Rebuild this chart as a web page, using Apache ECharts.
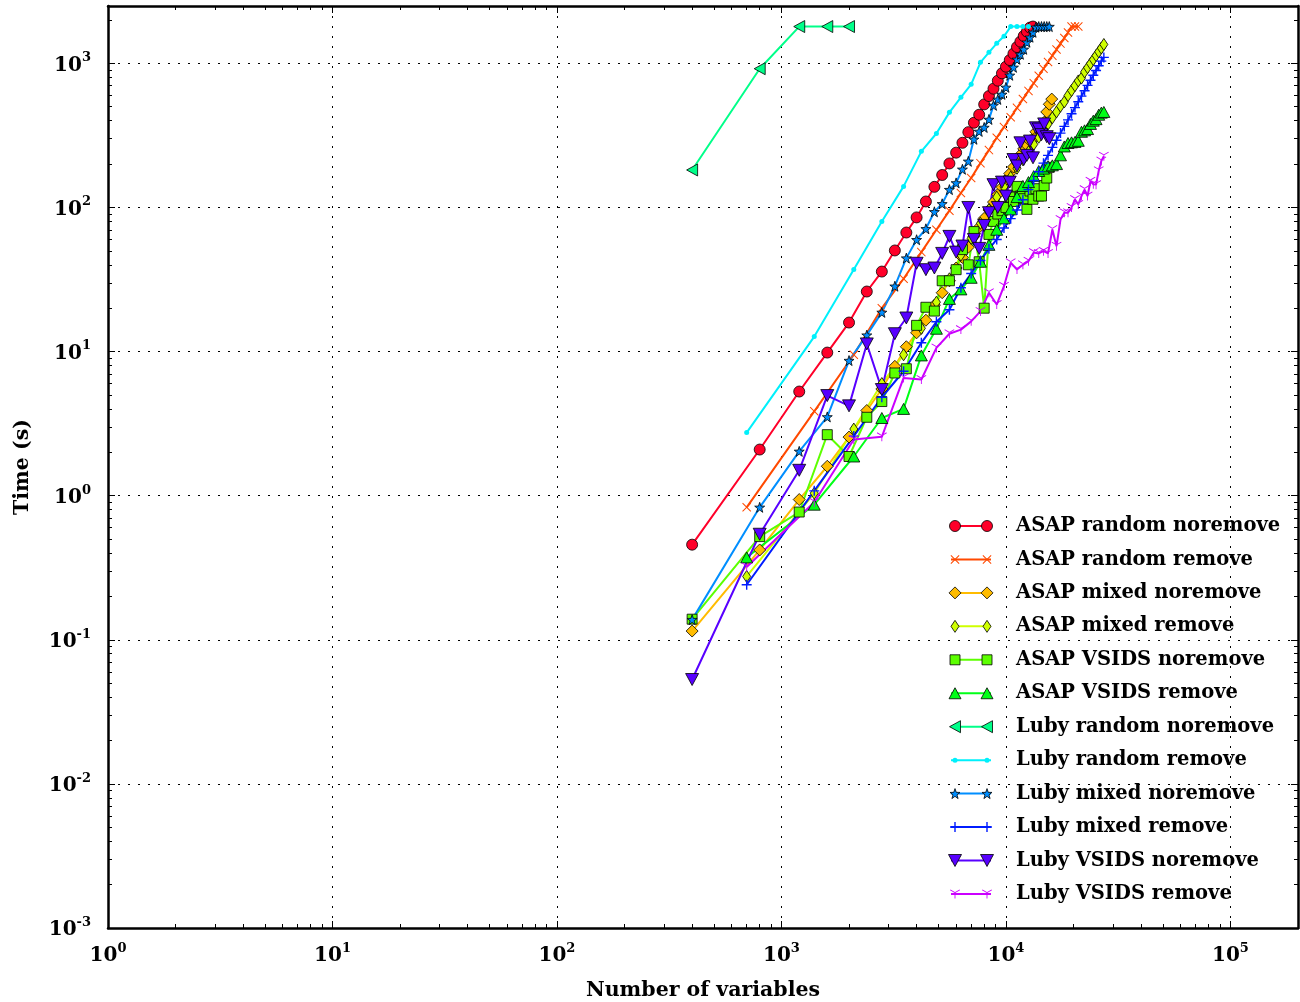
<!DOCTYPE html>
<html><head><meta charset="utf-8">
<script src="https://cdn.jsdelivr.net/npm/echarts@6/dist/echarts.min.js"></script>
<style>html,body{margin:0;padding:0;background:#fff}#c{width:1300px;height:1002px}</style>
</head><body><div id="c"></div>
<script>
// ---------- data ----------
const nVars400 = [400,800,1200,1600,2000,2400,2800,3200,3600,4000,4400,4800,5200,5600,6000,6400,6800,7200,7600,8000,
  8400,8800,9200,9600,10000,10400,10800,11200,11600,12000,12400,12800,13200,13600,14000,14400,14800,15200,15600,16000];
const nVars700 = [700,1400,2100,2800,3500,4200,4900,5600,6300,7000,7700,8400,9100,9800,10500,11200,11900,12600,13300,14000,
  14700,15400,16100,16800,17500,18200,18900,19600,20300,21000,21700,22400,23100,23800,24500,25200,25900,26600,27300];
const nVarsLubyRandomNoremove = [400,800,1200,1600,2000];

const asapRandomNoremove = [0.457,2.09,5.28,9.84,15.9,26.1,35.9,50.3,67,85.3,110,139,168,202,240,281,333,387,440,519,
  593,667,758,853,948,1054,1167,1298,1415,1548,1660,1770,1800];
const asapRandomRemove = [0.83,3.85,9.5,20,32,49,70,95,126,160,203,250,305,361,423,491,565,644,729,820,
  918,1022,1131,1248,1371,1500,1636,1800,1800,1800];
const asapMixedNoremove = [0.115,0.42,0.94,1.6,2.55,3.9,5.5,7.9,10.8,13.5,16.5,21,25.6,31,38,45,53,63,73,84,
  96,109,123,138,155,172,191,211,232,255,270,290,300,335,320,330,390,460,520,565];
const asapMixedRemove = [0.275,1.04,2.9,6.0,9.5,14.5,22,32,46.7,61,77.6,96.7,118,139,162,187,214,243,274,307,
  342,379,419,460,504,540,598,648,700,755,790,872,933,997,1063,1132,1203,1276,1352];
const asapVsidsNoremove = [0.139,0.52,0.77,2.65,1.87,3.5,4.5,7.1,7.6,15.2,20.3,19.1,31,31,37,51,40,68,42,20,
  65,80,90,95,100,118,110,140,120,115,97,130,114,135,120,120,142,160,190];
const asapVsidsRemove = [0.373,0.866,1.87,3.46,4.0,9.4,14.4,23.2,27,32.5,42,55,70,84,97,118,141,150,165,179,
  186,193,196,200,230,265,280,283,285,290,335,343,350,380,400,410,440,455,460];
const lubyRandomNoremove = [182,918,1800,1800,1800];
const lubyRandomRemove = [2.74,12.7,37.1,80,140,245,326,457,581,715,1016,1192,1377,1540,1800,1800,1800,1800];
const lubyMixedNoremove = [0.138,0.83,2.03,3.52,8.66,13,18.7,28.4,44.5,59.7,71.1,93.3,106,133,148,184,209,297,337,359,
  408,511,562,609,681,826,938,1066,1155,1251,1400,1517,1641,1780,1800,1800,1800,1800,1800];
const lubyMixedRemove = [0.241,1.08,2.59,4.82,7.3,11.5,16.1,19.5,27.7,34.8,42.8,51.6,60,72,83.6,96,113,133,154,177,
  203,230,261,293,328,365,405,447,493,541,592,646,703,763,826,893,963,1036,1100];
const lubyVsidsNoremove = [0.053,0.54,1.5,4.95,4.2,11.3,5.45,13.3,17.1,41,37,38,48,63,49,54,100,60,52,75,
  92,144,100,150,120,150,215,194,281,215,230,289,221,357,350,320,380,310,300];
const lubyVsidsRemove = [0.32,0.9,2.45,2.56,6.56,6.4,10.6,13.3,14.2,16.2,19,25.6,21.2,28.4,41.3,37.1,40,42.4,48.7,48,
  49.7,48,70.3,53.9,82.5,92,92,100,113.6,105,120,133,120,152,145,144,180,210,227];

const xTickLabels = [1,10,100,1000,10000,100000];
const yTickLabels = [0.001,0.01,0.1,1,10,100,1000];

// ---------- marker shapes (polygons, normalised to a unit box) ----------
const FONT = 'DejaVu Serif';
function norm(polys) {
  let x0 = Infinity, y0 = Infinity, x1 = -Infinity, y1 = -Infinity;
  polys.forEach(p => p.forEach(([x, y]) => { x0 = Math.min(x0, x); x1 = Math.max(x1, x); y0 = Math.min(y0, y); y1 = Math.max(y1, y); }));
  return polys.map(p => p.map(([x, y]) => [(x - x0) / (x1 - x0), (y - y0) / (y1 - y0)]));
}
const SH = {
  tri: norm([[[5,0],[10,10],[0,10]]]),
  triDown: norm([[[0,0],[10,0],[5,10]]]),
  triLeft: norm([[[0,5],[10,0],[10,10]]]),
  diamond: norm([[[5,0],[10,5],[5,10],[0,5]]]),
  star: norm([[[10,0],[12.35,6.76],[19.51,6.91],[13.8,11.24],[15.88,18.09],[10,14],[4.12,18.09],[6.2,11.24],[0.49,6.91],[7.65,6.76]]]),
  plus: norm([[[4.3,0],[5.7,0],[5.7,4.3],[10,4.3],[10,5.7],[5.7,5.7],[5.7,10],[4.3,10],[4.3,5.7],[0,5.7],[0,4.3],[4.3,4.3]]]),
  xmark: norm([[[0,0.8],[0.8,0],[5,4.2],[9.2,0],[10,0.8],[5.8,5],[10,9.2],[9.2,10],[5,5.8],[0.8,10],[0,9.2],[4.2,5]]]),
  triY: norm([[[4.6,5],[5.4,5],[5.4,10],[4.6,10]],
              [[5.2,4.65],[0.85,2.15],[0.45,2.85],[4.8,5.35]],
              [[4.8,4.65],[9.15,2.15],[9.55,2.85],[5.2,5.35]]])
};
function toPath(polys) {
  return 'path://' + polys.map(p => 'M' + p.map(([x, y]) => (x * 100).toFixed(2) + ',' + (y * 100).toFixed(2)).join('L') + 'Z').join(' ');
}

function pairs(xs, ys) { return ys.map((y, i) => [xs[i], y]); }

const specs = [
  {name:'ASAP random noremove', xs:nVars400, ys:asapRandomNoremove, color:'#FF0029', symbol:'circle', size:[11,11]},
  {name:'ASAP random remove', xs:nVars700, ys:asapRandomRemove, color:'#FF4900', shape:SH.xmark, size:[9,9], noBorder:true},
  {name:'ASAP mixed noremove', xs:nVars400, ys:asapMixedNoremove, color:'#FFBC00', shape:SH.diamond, size:[12,12]},
  {name:'ASAP mixed remove', xs:nVars700, ys:asapMixedRemove, color:'#CFFF00', shape:SH.diamond, size:[8,12]},
  {name:'ASAP VSIDS noremove', xs:nVars400, ys:asapVsidsNoremove, color:'#5CFF00', symbol:'rect', size:[10,10]},
  {name:'ASAP VSIDS remove', xs:nVars700, ys:asapVsidsRemove, color:'#00FF17', shape:SH.tri, size:[12,11]},
  {name:'Luby random noremove', xs:nVarsLubyRandomNoremove, ys:lubyRandomNoremove, color:'#00FF89', shape:SH.triLeft, size:[11,12]},
  {name:'Luby random remove', xs:nVars700, ys:lubyRandomRemove, color:'#00F0FB', symbol:'circle', size:[5,5], noBorder:true},
  {name:'Luby mixed noremove', xs:nVars400, ys:lubyMixedNoremove, color:'#008EFF', shape:SH.star, size:[10,10]},
  {name:'Luby mixed remove', xs:nVars700, ys:lubyMixedRemove, color:'#001CFF', shape:SH.plus, size:[10,10], noBorder:true},
  {name:'Luby VSIDS noremove', xs:nVars400, ys:lubyVsidsNoremove, color:'#5800FF', shape:SH.triDown, size:[13,12]},
  {name:'Luby VSIDS remove', xs:nVars700, ys:lubyVsidsRemove, color:'#CB00FF', shape:SH.triY, size:[10,9], noBorder:true}
];

const series = specs.map(s => ({
  name: s.name, type: 'line', data: pairs(s.xs, s.ys),
  xAxisIndex: 0, yAxisIndex: 0,
  symbol: s.shape ? toPath(s.shape) : s.symbol, symbolSize: s.size,
  showAllSymbol: true, animation: false,
  lineStyle: {color: s.color, width: 2},
  itemStyle: {color: s.color, borderColor: s.noBorder ? s.color : '#000', borderWidth: s.noBorder ? 0 : 0.8, opacity: 1},
  emphasis: {disabled: true}
}));

// legend icons: a line with a marker at each end (legend text is the ECharts legend)
const LEG_TOP = 514, ROW = 33.45, LX0 = 955, LX1 = 987;
const legendIcons = [];
specs.forEach((s, i) => {
  const cy = LEG_TOP + 12 + i * ROW;
  legendIcons.push({type: 'line', shape: {x1: LX0 - 4, y1: cy, x2: LX1 + 4, y2: cy},
    style: {stroke: s.color, lineWidth: 2}, z: 100});
  [LX0, LX1].forEach(cx => {
    const w = s.size[0], h = s.size[1];
    const st = {fill: s.color, stroke: s.noBorder ? null : '#000', lineWidth: s.noBorder ? 0 : 0.8};
    if (s.symbol === 'circle') legendIcons.push({type: 'circle', shape: {cx: cx, cy: cy, r: w / 2}, style: st, z: 101});
    else if (s.symbol === 'rect') legendIcons.push({type: 'rect', shape: {x: cx - w / 2, y: cy - h / 2, width: w, height: h}, style: st, z: 101});
    else s.shape.forEach(p => legendIcons.push({type: 'polygon',
      shape: {points: p.map(([x, y]) => [cx - w / 2 + x * w, cy - h / 2 + y * h])}, style: st, z: 101}));
  });
});

function powLabel(v) {
  const e = Math.log10(v), r = Math.round(e);
  if (Math.abs(e - r) > 1e-6) return '';
  return '{b|10}{s|' + r + '}';
}
const labelRich = {
  b: {fontFamily: FONT, fontWeight: 'bold', fontSize: 20, lineHeight: 24, color: '#000', verticalAlign: 'bottom'},
  s: {fontFamily: FONT, fontWeight: 'bold', fontSize: 13, lineHeight: 12, color: '#000', verticalAlign: 'top'}
};
const xMinor = [], yMinor = [];
for (let d = 0; d < 5; d++) for (let k = 2; k <= 9; k++) xMinor.push(k * Math.pow(10, d));
for (let d = -3; d <= 3; d++) for (let k = 2; k <= 9; k++) { const v = k * Math.pow(10, d); if (v < 2500) yMinor.push(+v.toPrecision(3)); }

const X0 = 1, X1 = 200000, Y0 = 0.001, Y1 = 2500;
const lineBlack = {show: true, lineStyle: {color: '#000', width: 2.5}};
const noLabel = {show: false};
const dotted = {show: true, lineStyle: {color: '#000', width: 1, type: [2, 8]}};
const tickMaj = (vals) => ({show: true, inside: true, length: 7, lineStyle: {color: '#000', width: 1}, customValues: vals});
const tickMin = (vals) => ({show: true, inside: true, length: 4, lineStyle: {color: '#000', width: 1}, customValues: vals});

const option = {
  backgroundColor: '#fff',
  animation: false,
  grid: {left: 108, right: 2, top: 6, bottom: 74, containLabel: false, outerBoundsMode: 'none'},
  legend: {
    orient: 'vertical', left: 950, top: LEG_TOP, padding: 0,
    itemWidth: 38, itemHeight: 12, itemGap: 9.45,
    data: specs.map(s => s.name),
    itemStyle: {opacity: 0}, lineStyle: {opacity: 0},
    textStyle: {fontFamily: FONT, fontWeight: 'bold', fontSize: 19.5, lineHeight: 24, color: '#000', padding: [0, 0, 0, 22]},
    selectedMode: false
  },
  graphic: legendIcons,
  xAxis: [
    {type: 'log', min: X0, max: X1, position: 'bottom',
     axisLine: lineBlack, axisTick: tickMaj(xTickLabels),
     axisLabel: {show: true, margin: 14, formatter: powLabel, rich: labelRich, customValues: xTickLabels},
     splitLine: dotted,
     name: 'Number of variables', nameLocation: 'middle', nameGap: 52,
     nameTextStyle: {fontFamily: FONT, fontWeight: 'bold', fontSize: 20.5, color: '#000'}},
    {type: 'log', min: X0, max: X1, position: 'bottom', axisLine: {show: false},
     axisTick: tickMin(xMinor), axisLabel: noLabel, splitLine: {show: false}},
    {type: 'log', min: X0, max: X1, position: 'top', axisLine: lineBlack,
     axisTick: tickMaj(xTickLabels), axisLabel: noLabel, splitLine: {show: false}},
    {type: 'log', min: X0, max: X1, position: 'top', axisLine: {show: false},
     axisTick: tickMin(xMinor), axisLabel: noLabel, splitLine: {show: false}}
  ],
  yAxis: [
    {type: 'log', min: Y0, max: Y1, position: 'left',
     axisLine: lineBlack, axisTick: tickMaj(yTickLabels),
     axisLabel: {show: true, margin: 17, formatter: powLabel, rich: labelRich, customValues: yTickLabels},
     splitLine: dotted,
     name: 'Time (s)', nameLocation: 'middle', nameGap: 75, nameRotate: 90,
     nameTextStyle: {fontFamily: FONT, fontWeight: 'bold', fontSize: 20.5, color: '#000'}},
    {type: 'log', min: Y0, max: Y1, position: 'left', axisLine: {show: false},
     axisTick: tickMin(yMinor), axisLabel: noLabel, splitLine: {show: false}},
    {type: 'log', min: Y0, max: Y1, position: 'right', axisLine: lineBlack,
     axisTick: tickMaj(yTickLabels), axisLabel: noLabel, splitLine: {show: false}},
    {type: 'log', min: Y0, max: Y1, position: 'right', axisLine: {show: false},
     axisTick: tickMin(yMinor), axisLabel: noLabel, splitLine: {show: false}}
  ],
  series: series
};

const chart = echarts.init(document.getElementById('c'), null, {renderer: 'canvas'});
chart.setOption(option);
</script>
</body></html>
